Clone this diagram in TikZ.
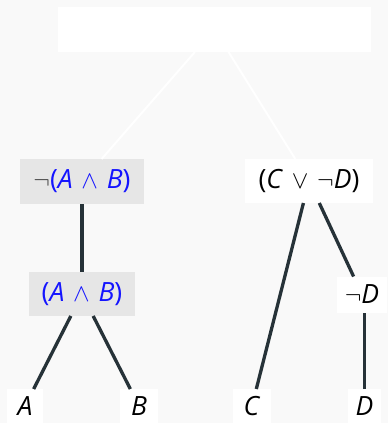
\documentclass[tikz,border=0pt]{standalone}
\usepackage{fontspec}
\setmainfont{Open Sans}
\definecolor{bgc}{HTML}{F9F9F9}
\definecolor{boxg}{HTML}{E6E6E6}
\definecolor{edgec}{HTML}{263238}
\definecolor{bluet}{HTML}{1414FF}
\newcommand{\myneg}{$\neg$}
\newcommand{\myand}{\hspace{0.33em}$\wedge$\hspace{0.33em}}
\newcommand{\myor}{\hspace{0.33em}$\vee$\hspace{0.33em}}
\begin{document}
\begin{tikzpicture}[x=1pt,y=-1pt,
  every node/.style={inner sep=0pt,outer sep=0pt,font=\fontsize{26.5}{30}\selectfont},
  wbox/.style={fill=white,draw=none},
  gbox/.style={fill=boxg,draw=none},
  leafbox/.style={fill=white,draw=none,minimum height=34pt},
  darkedge/.style={draw=edgec,line width=3.3pt},
  lightedge/.style={draw=white,line width=2pt}]
\fill[bgc] (0,0) rectangle (388,423);
\useasboundingbox (0,0) rectangle (388,423);
\begin{scope}
\clip (0,0) rectangle (388,423);
\node[wbox,minimum width=313pt,minimum height=45pt] (root) at (214.5,29.5) {};
\node[gbox,minimum width=124pt,minimum height=45pt] (n1) at (82,181.5) {{\color{darkgray}\myneg}{\color{bluet}(\textit{A}\myand\textit{B})}};
\node[wbox,minimum width=128pt,minimum height=44pt] (n2) at (309,181) {(\textit{C}\myor\myneg\textit{D})};
\node[gbox,minimum width=106pt,minimum height=44pt] (n3) at (82,294) {\color{bluet}(\textit{A}\myand\textit{B})};
\node[wbox,minimum width=50pt,minimum height=36pt] (n4) at (362,294.5) {\myneg\textit{D}};
\node[leafbox,minimum width=36pt] (a) at (25,406) {\textit{A}};
\node[leafbox,minimum width=38pt] (b) at (139,406) {\textit{B}};
\node[leafbox,minimum width=38pt] (c) at (252,406) {\textit{C}};
\node[leafbox,minimum width=33pt] (d) at (364.5,406) {\textit{D}};
\draw[lightedge] (root) -- (n1);
\draw[lightedge] (root) -- (n2);
\draw[darkedge] (n1) -- (n3);
\draw[darkedge] (n3) -- (a);
\draw[darkedge] (n3) -- (b);
\draw[darkedge] (n2) -- (c);
\draw[darkedge] (n2) -- (n4);
\draw[darkedge] (d.north) -- (d.north |- n4.south);
\end{scope}
\end{tikzpicture}
\end{document}
